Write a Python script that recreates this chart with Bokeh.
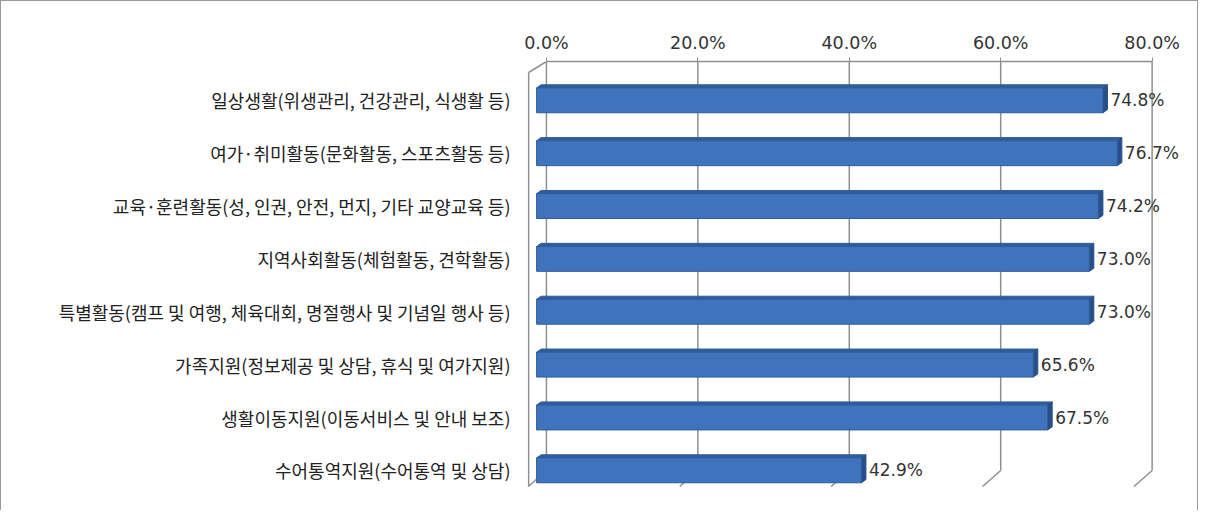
from bokeh.plotting import figure
from bokeh.models import Range1d, FixedTicker, ColumnDataSource
from bokeh.embed import file_html
from bokeh.resources import INLINE

categories = [
    "일상생활(위생관리, 건강관리, 식생활 등)",
    "여가·취미활동(문화활동, 스포츠활동 등)",
    "교육·훈련활동(성, 인권, 안전, 먼지, 기타 교양교육 등)",
    "지역사회활동(체험활동, 견학활동)",
    "특별활동(캠프 및 여행, 체육대회, 명절행사 및 기념일 행사 등)",
    "가족지원(정보제공 및 상담, 휴식 및 여가지원)",
    "생활이동지원(이동서비스 및 안내 보조)",
    "수어통역지원(수어통역 및 상담)",
]
values = [74.8, 76.7, 74.2, 73.0, 73.0, 65.6, 67.5, 42.9]
value_labels = ["74.8%", "76.7%", "74.2%", "73.0%", "73.0%", "65.6%", "67.5%", "42.9%"]
tick_values = [0, 20, 40, 60, 80]
tick_labels = ["0.0%", "20.0%", "40.0%", "60.0%", "80.0%"]

n = len(categories)
ypos = [n - 1 - i for i in range(n)]

# styling geometry (3D look)
OFF = 1.3      # front face shift to the left
H = 0.47       # bar thickness
DX, DY = 0.6, 0.06

y_top, y_bot = 7.735, -0.551
x_start, x_end = -2.5, 85.2

p = figure(width=1198, height=510, output_backend="svg", toolbar_location=None,
           x_range=Range1d(x_start, x_end), y_range=Range1d(y_bot, y_top),
           x_axis_location="above",
           min_border_left=526, min_border_right=8, min_border_top=60, min_border_bottom=12)
p.outline_line_color = None
p.xgrid.visible = False
p.ygrid.visible = False
p.background_fill_color = "white"
p.border_fill_color = "white"
p.styles = {"border-top": "1px solid #9a9a9a", "border-left": "1px solid #9a9a9a",
            "border-right": "1px solid #9a9a9a"}

# top axis
xa = p.xaxis[0]
xa.ticker = FixedTicker(ticks=tick_values)
xa.major_label_overrides = {v: l for v, l in zip(tick_values, tick_labels)}
xa.bounds = (0, 80)
xa.axis_line_color = "#8f8f8f"
xa.axis_line_width = 1.5
xa.major_tick_line_color = "#8f8f8f"
xa.major_tick_out = 4
xa.major_tick_in = 0
xa.minor_tick_line_color = None
xa.major_label_text_font = "DejaVu Sans"
xa.major_label_text_font_size = "17.5px"
xa.major_label_text_color = "#333333"
xa.major_label_standoff = 5

# left axis with categories
ya = p.yaxis[0]
ya.ticker = FixedTicker(ticks=ypos)
ya.major_label_overrides = {y: c for y, c in zip(ypos, categories)}
ya.axis_line_color = None
ya.major_tick_line_color = None
ya.minor_tick_line_color = None
ya.major_label_text_font = "Noto Sans CJK KR"
ya.major_label_text_font_size = "18px"
ya.major_label_text_color = "#222222"
ya.major_label_standoff = 11

# back wall gridlines + floor slants
y_floor_back, y_floor_front = -0.002, -0.305
y_front_top = 7.527
p.segment(x0=tick_values, y0=[y_top] * 5, x1=tick_values, y1=[y_floor_back] * 5,
          line_color="#8f8f8f", line_width=1.5)
p.segment(x0=tick_values, y0=[y_floor_back] * 5, x1=[t - 2.4 for t in tick_values],
          y1=[y_floor_front] * 5, line_color="#8f8f8f", line_width=1.5)
# left wall front edge
p.segment(x0=[-2.35], y0=[y_front_top], x1=[-2.35], y1=[y_floor_front], line_color="#8f8f8f", line_width=1.5)
p.segment(x0=[-2.35], y0=[y_front_top], x1=[0], y1=[y_top], line_color="#8f8f8f", line_width=1.5)

lefts = [-OFF] * n
rights = [v - OFF for v in values]

# top faces
top_xs = [[l, r, r + DX, l + DX] for l, r in zip(lefts, rights)]
top_ys = [[y + H / 2, y + H / 2, y + H / 2 + DY, y + H / 2 + DY] for y in ypos]
p.patches(xs=top_xs, ys=top_ys, fill_color="#2f5d9b", line_color="#2f5d9b", line_width=1)
# side caps
side_xs = [[r, r + DX, r + DX, r] for r in rights]
side_ys = [[y - H / 2, y - H / 2 + DY, y + H / 2 + DY, y + H / 2] for y in ypos]
p.patches(xs=side_xs, ys=side_ys, fill_color="#27508a", line_color="#27508a", line_width=1)

src = ColumnDataSource(dict(y=ypos, left=lefts, right=rights, lab=value_labels,
                            lx=[r + DX + 0.4 for r in rights]))
p.hbar(y="y", left="left", right="right", height=H, source=src,
       fill_color="#3f74bd", line_color="#2f5d9b", line_width=1)

p.text(x="lx", y="y", text="lab", source=src, text_font_size="17px",
       text_color="#333333", text_baseline="middle", text_align="left",
       text_font={"value": "DejaVu Sans"})

open("out.html", "w").write(file_html(p, INLINE))
